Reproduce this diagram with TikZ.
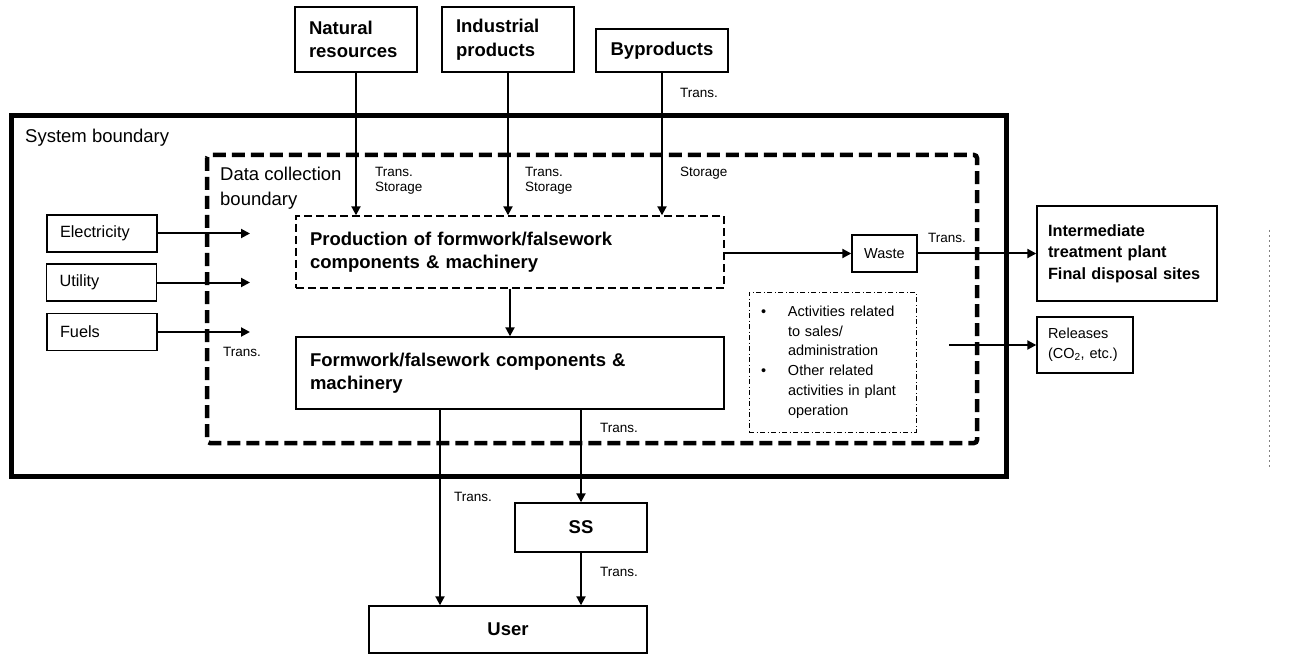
\documentclass[tikz,border=0pt]{standalone}
\usepackage{fontspec}
\setmainfont{Liberation Sans}
\usetikzlibrary{arrows.meta}

\begin{document}
\begin{tikzpicture}[x=1pt,y=-1pt,
    box/.style={draw,line width=1.4pt,inner ysep=0pt},
    bigtxt/.style={font=\fontsize{18.5}{23.5}\selectfont\bfseries},
    midtxt/.style={font=\fontsize{16.3}{20}\selectfont},
    smltxt/.style={font=\fontsize{14.5}{19.8}\selectfont},
    note/.style={font=\fontsize{13.5}{15}\selectfont,inner sep=0pt,anchor=west,align=left},
    inbox/.style={box,midtxt,text width=84pt,inner xsep=13pt,minimum height=37pt,align=left},
    srcbox/.style={box,bigtxt,inner xsep=14pt,minimum height=65pt,align=left},
    mainbox/.style={box,bigtxt,text width=400pt,inner xsep=14pt,minimum height=72pt,align=left},
    flow/.style={line width=2pt,-{Triangle[length=9pt,width=9pt]}}]

\useasboundingbox (0,0) rectangle (1296,655);

% Boundaries
\draw[line width=5pt] (11,116) rectangle (1006,476);
\draw[line width=4.5pt,dash pattern=on 13pt off 6pt,rounded corners=3pt]
  (207,155) rectangle (977,443);
\node[font=\fontsize{18.5}{23}\selectfont,inner sep=0pt,anchor=west] (sysb) at (25,138) {System boundary};
\node[font=\fontsize{18.5}{25}\selectfont,inner sep=0pt,anchor=west,align=left] (datab) at (220,188)
  {Data collection\\boundary};

% Sources
\node[srcbox,text width=94pt] (nat) at (356,39.5) {Natural\\resources};
\node[srcbox,text width=104pt] (ind) at (508,39.5) {Industrial\\products};
\node[srcbox,text width=104pt,minimum height=43pt,align=center] (byp) at (662,50.5) {Byproducts};

% Inputs
\node[inbox] (elec) at (102,233.5) {Electricity};
\node[inbox] (util) at (101.5,282.5) {Utility};
\node[inbox] (fuel) at (102,332) {Fuels};
\coordinate (inend) at (250,0);

% Plant
\node[mainbox,dash pattern=on 8pt off 4pt] (prod) at (510,252)
  {Production of formwork/falsework\\components \& machinery};
\node[mainbox] (form) at (510,373)
  {Formwork/falsework components \&\\machinery};
\node[box,smltxt,minimum width=65pt,minimum height=37pt] (waste) at (884.5,253.5) {Waste};
\node[box,line width=1pt,smltxt,dash pattern=on 5pt off 2.5pt on 1pt off 2.5pt,
  text width=143pt,inner xsep=12pt,minimum height=140pt,align=left] (act) at (832.5,362)
  {\makebox[27pt][l]{\textbullet}Activities related\\\hspace*{27pt}to sales/\\\hspace*{27pt}administration\\
   \makebox[27pt][l]{\textbullet}Other related\\\hspace*{27pt}activities in plant\\\hspace*{27pt}operation};

% Outputs
\node[box,font=\fontsize{16.3}{21.5}\selectfont\bfseries,text width=158pt,inner xsep=11pt,
  minimum height=95pt,align=left] (inter) at (1127,253.5)
  {Intermediate\\treatment plant\\Final disposal sites};
\node[box,smltxt,text width=74pt,inner xsep=11pt,minimum height=56pt,align=left] (rel) at (1085,345)
  {Releases\\(CO\textsubscript{2}, etc.)};
\coordinate (relsrc) at (949,345);

% Distribution
\node[box,bigtxt,minimum width=132pt,minimum height=49pt] (ss) at (581,527.5) {SS};
\node[box,bigtxt,minimum width=278pt,minimum height=47pt] (usr) at (508,629.5) {User};
\coordinate (direct) at (440,0);

% Flows
\draw[flow] (nat.south) -- (nat.south |- prod.north);
\draw[flow] (ind.south) -- (ind.south |- prod.north);
\draw[flow] (byp.south) -- (byp.south |- prod.north);
\foreach \n in {elec,util,fuel}
  \draw[flow] (\n.east) -- (\n.east -| inend);
\draw[flow] (prod) -- (form);
\draw[flow] (prod.east |- waste.west) -- (waste.west);
\draw[flow] (waste.east) -- (inter.west |- waste.east);
\draw[flow] (relsrc) -- (rel.west);
\draw[flow] (form.south -| direct) -- (usr.north -| direct);
\draw[flow] (form.south -| ss) -- (ss.north);
\draw[flow] (ss.south) -- (usr.north -| ss);

% Labels
\node[note] (t1) at (375,181) {Trans.\\Storage};
\node[note] (t2) at (525,181) {Trans.\\Storage};
\node[note] (t3) at (680,92.5) {Trans.};
\node[note] (t4) at (680,173.5) {Storage};
\node[note] (t5) at (223,352) {Trans.};
\node[note] (t6) at (928,237.5) {Trans.};
\node[note] (t7) at (600,428) {Trans.};
\node[note] (t8) at (454,496.5) {Trans.};
\node[note] (t9) at (600,571.5) {Trans.};

% Dotted mark
\draw[gray,dash pattern=on 2pt off 3pt,line width=0.7pt] (1269,230) -- (1269,467);

\end{tikzpicture}
\end{document}
